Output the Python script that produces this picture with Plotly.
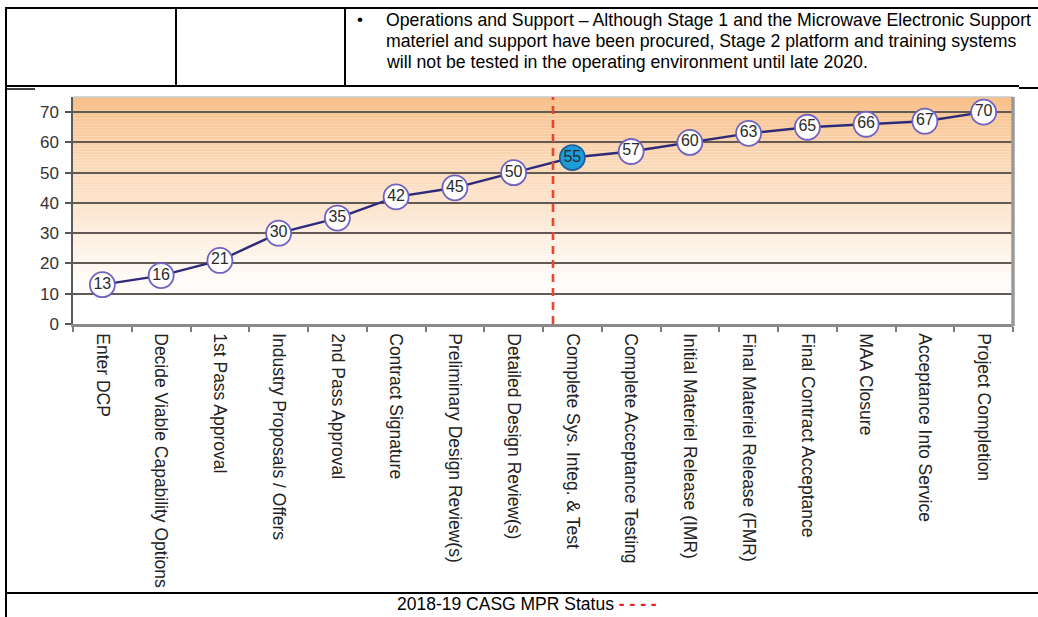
import plotly.graph_objects as go

# ---------------- data ----------------
milestones = [
    "Enter DCP",
    "Decide Viable Capability Options",
    "1st Pass Approval",
    "Industry Proposals / Offers",
    "2nd Pass Approval",
    "Contract Signature",
    "Preliminary Design Review(s)",
    "Detailed Design Review(s)",
    "Complete Sys. Integ. & Test",
    "Complete Acceptance Testing",
    "Initial Materiel Release (IMR)",
    "Final Materiel Release (FMR)",
    "Final Contract Acceptance",
    "MAA Closure",
    "Acceptance Into Service",
    "Project Completion",
]
values = [13, 16, 21, 30, 35, 42, 45, 50, 55, 57, 60, 63, 65, 66, 67, 70]
current_milestone = "Complete Sys. Integ. & Test"
status_position = 7.67  # MPR status marker, in category-index units
y_ticks = [0, 10, 20, 30, 40, 50, 60, 70]

table_text_lines = [
    "Operations and Support \u2013 Although Stage 1 and the Microwave Electronic Support",
    "materiel and support have been procured, Stage 2 platform and training systems",
    "will not be tested in the operating environment until late 2020.",
]
caption_text = "2018-19 CASG MPR Status"

# ---------------- layout geometry ----------------
W, H = 1038, 617
ML, MR, MT, MB = 73, 25, 97, 293
PW, PH = W - ML - MR, H - MT - MB
Y_MAX = 75


def px(x):
    return (x - ML) / PW


def py(y):
    return (H - MB - y) / PH


FONT = "Arial, Liberation Sans, sans-serif"

fig = go.Figure()

marker_fill = ["#1c9cd8" if m == current_milestone else "white" for m in milestones]
marker_line = ["#1f5d9c" if m == current_milestone else "#6f62c0" for m in milestones]

fig.add_trace(go.Scatter(
    x=milestones,
    y=values,
    mode="lines+markers+text",
    text=[str(v) for v in values],
    textposition="middle center",
    textfont=dict(family=FONT, size=16, color="#2a2a2a"),
    line=dict(color="#2d2a7a", width=2.4),
    marker=dict(size=25, color=marker_fill, line=dict(color=marker_line, width=1.8)),
    cliponaxis=False,
    showlegend=False,
    hoverinfo="x+y",
))

shapes = []
# vertical gradient background (peach at top fading to white)
N = 75
top = (248, 192, 138)
for k in range(N):
    y0 = k * Y_MAX / N
    y1 = (k + 1) * Y_MAX / N
    ym = (y0 + y1) / 2
    t = max(0.0, (ym - 8) / (Y_MAX - 8)) ** 1.15
    c = tuple(round(255 * (1 - t) + top[i] * t) for i in range(3))
    shapes.append(dict(type="rect", xref="paper", yref="y", x0=0, x1=1, y0=y0, y1=y1,
                       fillcolor="rgb(%d,%d,%d)" % c, line=dict(width=0), layer="below"))

# plot frame: light top, thick grey right
shapes.append(dict(type="line", xref="paper", yref="paper", x0=0, x1=1, y0=1, y1=1,
                   line=dict(color="#c9c9c9", width=1.5)))
shapes.append(dict(type="line", xref="paper", yref="paper", x0=1, x1=1, y0=-0.01, y1=1,
                   line=dict(color="#9a9a9a", width=3.5)))

# status dashed line
shapes.append(dict(type="line", xref="x", yref="paper", x0=status_position, x1=status_position,
                   y0=0, y1=1, line=dict(color="#e8472e", width=2.6, dash="8px,6px")))

# document table borders
def hline(x0, x1, y, w=2):
    shapes.append(dict(type="line", xref="paper", yref="paper", x0=px(x0), x1=px(x1),
                       y0=py(y), y1=py(y), line=dict(color="black", width=w)))


def vline(x, y0, y1, w=2):
    shapes.append(dict(type="line", xref="paper", yref="paper", x0=px(x), x1=px(x),
                       y0=py(y0), y1=py(y1), line=dict(color="black", width=w)))


hline(5, 1038, 8)
hline(5, 1019, 86)
hline(1019, 1038, 88)
hline(6, 35, 89, 1.5)
hline(5, 1038, 593)
vline(6, 7, 617)
vline(176, 8, 86)
vline(345, 8, 86)

annotations = []
annotations.append(dict(xref="paper", yref="paper", x=px(360), y=py(19), text="\u2022",
                        showarrow=False, xanchor="center", yanchor="middle",
                        font=dict(family=FONT, size=17, color="black")))
for i, line in enumerate(table_text_lines):
    annotations.append(dict(xref="paper", yref="paper", x=px(384), y=py(20 + 21 * i),
                            text=line, showarrow=False, xanchor="left", yanchor="middle",
                            font=dict(family=FONT, size=17.7, color="black")))
annotations.append(dict(xref="paper", yref="paper", x=px(527), y=py(604),
                        text=caption_text + " <span style='color:#e8201e'><b>- - - -</b></span>",
                        showarrow=False, xanchor="center", yanchor="middle",
                        font=dict(family=FONT, size=17.5, color="black")))

fig.update_layout(
    width=W, height=H,
    margin=dict(l=ML, r=MR, t=MT, b=MB, pad=0),
    paper_bgcolor="white",
    plot_bgcolor="white",
    shapes=shapes,
    annotations=annotations,
    showlegend=False,
    xaxis=dict(
        type="category",
        categoryorder="array",
        categoryarray=milestones,
        range=[-0.5, len(milestones) - 0.5],
        tickson="boundaries",
        ticks="outside",
        ticklen=5,
        tickwidth=1.5,
        tickcolor="#7a7a7a",
        tickangle=90,
        ticklabelstandoff=3,
        tickfont=dict(family=FONT, size=17.5, color="#222222"),
        showgrid=False,
        showline=True,
        linecolor="#8a8a8a",
        linewidth=2.5,
        zeroline=False,
        fixedrange=True,
    ),
    yaxis=dict(
        range=[0, Y_MAX],
        tickmode="array",
        tickvals=y_ticks,
        ticks="outside",
        ticklen=6,
        tickwidth=1.5,
        tickcolor="#555555",
        tickfont=dict(family=FONT, size=17, color="#333333"),
        ticklabelstandoff=3,
        showgrid=True,
        gridcolor="#625a54",
        gridwidth=2,
        showline=True,
        linecolor="#5a5a5a",
        linewidth=1.5,
        zeroline=False,
        fixedrange=True,
    ),
)

fig.write_html("out.html")
